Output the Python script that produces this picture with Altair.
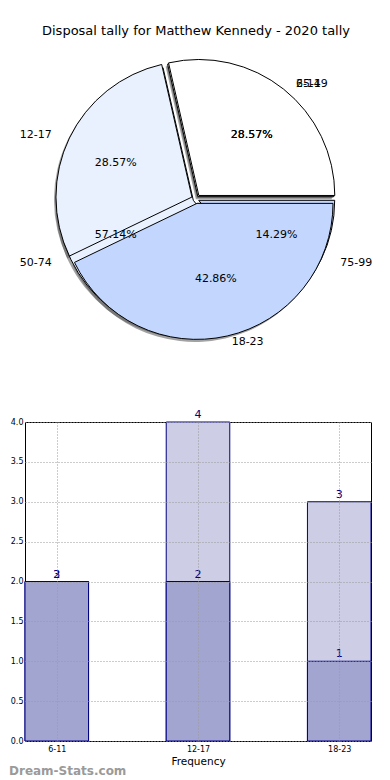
import math
import altair as alt
import pandas as pd

# ---------------- data ----------------
chart_title = "Disposal tally for Matthew Kennedy - 2020 tally"

pie1_labels = ["6-11", "12-17", "18-23"]
pie1_values = [2, 2, 3]
pie2_labels = ["25-49", "50-74", "75-99"]
pie2_values = [2, 4, 1]
pie_colors = ["#ffffff", "#e9f0fe", "#c2d6fe"]

bar_categories = ["6-11", "12-17", "18-23"]
bar_light_values = [2, 4, 3]
bar_light_labels = ["3", "4", "3"]
bar_dark_values = [2, 2, 1]
bar_dark_labels = ["2", "2", "1"]

axis_title = "Frequency"
watermark = "Dream-Stats.com"

# ---------------- layout constants ----------------
OX, OY = 24, 8                 # page position of the panels' origin
CX, CY = 195 - OX, 198 - OY    # pie centre in panel pixels
R = 136                        # wedge radius
RX_T, RY_T = 142, 130          # radii used for label placement
EXPLODE1, EXPLODE2 = 4.5, 3.0
LABEL_EXPLODE = 4.0
SHADOW_DX, SHADOW_DY = -2.0, 2.5
TOP_W, TOP_H = 346, 393
BAR_W, BAR_H = 346, 319
BAR_HALF = 0.225
FONT = "DejaVu Sans"
NAVY = "#000080"


def pie_table(labels, values, explode):
    total = sum(values)
    rows, cum = [], 0
    for i, (lab, v) in enumerate(zip(labels, values)):
        t0 = cum
        cum += v
        mid = math.radians((t0 + cum) / 2 / total * 360)
        c, s = math.cos(mid), math.sin(mid)
        ex, ey = CX + explode * c, CY - explode * s
        tx, ty = CX + LABEL_EXPLODE * c, CY - LABEL_EXPLODE * s
        rows.append(dict(
            k=i, label=lab, value=v, t0=t0, t1=cum, color=pie_colors[i],
            cx=ex, cy=ey, sx=ex + SHADOW_DX, sy=ey + SHADOW_DY,
            lx=tx + 1.1 * RX_T * c, ly=ty - 1.1 * RY_T * s,
            px=tx + 0.6 * RX_T * c, py=ty - 0.6 * RY_T * s,
            pct=f"{100 * v / total:.2f}%",
            side="left" if c >= 0 else "right",
        ))
    return pd.DataFrame(rows), total


pie1_df, total1 = pie_table(pie1_labels, pie1_values, EXPLODE1)
pie2_df, total2 = pie_table(pie2_labels, pie2_values, EXPLODE2)


def theta_scale(total):
    return alt.Scale(domain=[0, total], range=[math.pi / 2, math.pi / 2 - 2 * math.pi])


def wedges(df, total, shadow=False):
    if shadow:
        mark = alt.Chart(df).mark_arc(outerRadius=R, fill="#555555", opacity=0.55)
        xf, yf = "sx:Q", "sy:Q"
    else:
        mark = alt.Chart(df).mark_arc(outerRadius=R, stroke="black", strokeWidth=1)
        xf, yf = "cx:Q", "cy:Q"
    enc = dict(
        theta=alt.Theta("t0:Q", scale=theta_scale(total)),
        theta2="t1:Q",
        x=alt.X(xf, scale=None, axis=None, stack=False),
        y=alt.Y(yf, scale=None, axis=None, stack=False),
    )
    if not shadow:
        enc["fill"] = alt.Fill("color:N", scale=None, legend=None)
    return mark.encode(**enc)


def texts(df):
    layers = []
    for side in ["left", "right"]:
        layers.append(
            alt.Chart(df).transform_filter(alt.datum.side == side)
            .mark_text(align=side, baseline="middle", fontSize=11, font=FONT, color="black")
            .encode(x=alt.X("lx:Q", scale=None, axis=None),
                    y=alt.Y("ly:Q", scale=None, axis=None),
                    text="label:N")
        )
    layers.append(
        alt.Chart(df).mark_text(align="center", baseline="middle", fontSize=11, font=FONT, color="black")
        .encode(x=alt.X("px:Q", scale=None, axis=None),
                y=alt.Y("py:Q", scale=None, axis=None),
                text="pct:N")
    )
    return layers


title_df = pd.DataFrame({"t": [chart_title]})
title_layer = alt.Chart(title_df).mark_text(
    fontSize=13, font=FONT, color="black", align="center", baseline="middle"
).encode(x=alt.value(195 - OX), y=alt.value(30 - OY), text="t:N")

top = alt.layer(
    wedges(pie2_df, total2, shadow=True),
    wedges(pie1_df, total1, shadow=True),
    wedges(pie2_df, total2),
    wedges(pie1_df, total1),
    *texts(pie2_df),
    *texts(pie1_df),
    title_layer,
).resolve_scale(theta="independent").properties(
    width=TOP_W, height=TOP_H, view=alt.ViewBackground(stroke="transparent")
)

# ---------------- bar chart ----------------
bar_df = pd.DataFrame({
    "cat": bar_categories,
    "idx": list(range(len(bar_categories))),
    "light": bar_light_values,
    "light_label": bar_light_labels,
    "dark": bar_dark_values,
    "dark_label": bar_dark_labels,
})

label_expr = "[" + ",".join(f"'{c}'" for c in bar_categories) + "][datum.value]"

x_scale = alt.Scale(domain=[-BAR_HALF, len(bar_categories) - 1 + BAR_HALF], nice=False, zero=False)
x_axis = alt.Axis(values=list(range(len(bar_categories))), labelExpr=label_expr, title=axis_title,
                  grid=True, gridDash=[1, 2], gridColor="#999999", ticks=False, domain=False,
                  labelFontSize=8, labelPadding=4, labelColor="black", titleFontSize=10.5,
                  titleFontWeight="normal", titleColor="black", titlePadding=3, titleFont=FONT,
                  labelFont=FONT, labelOverlap=False, zindex=1)
y_axis = alt.Axis(values=[i * 0.5 for i in range(9)], format=".1f", title=None, grid=True,
                  gridDash=[1, 2], gridColor="#999999", ticks=False, domain=False, labelFontSize=8,
                  labelPadding=2, labelColor="black", labelFont=FONT, labelOverlap=False,
                  labelFlush=False, zindex=1)
y_scale = alt.Scale(domain=[0, 4], nice=False, zero=True)

base = alt.Chart(bar_df).transform_calculate(
    x0=f"datum.idx - {BAR_HALF}", x1=f"datum.idx + {BAR_HALF}"
)

light_bars = base.mark_bar(fill="#cdcde6", stroke=NAVY, strokeWidth=1).encode(
    x=alt.X("x0:Q", scale=x_scale, axis=x_axis), x2="x1:Q",
    y=alt.Y("light:Q", scale=y_scale, axis=y_axis), y2=alt.datum(0)
)
dark_bars = base.mark_bar(fill="#a3a5d1", stroke=NAVY, strokeWidth=1).encode(
    x=alt.X("x0:Q", scale=x_scale, axis=x_axis), x2="x1:Q",
    y=alt.Y("dark:Q", scale=y_scale, axis=y_axis), y2=alt.datum(0)
)
light_text = base.mark_text(baseline="bottom", dy=-2, fontSize=11, font=FONT, color=NAVY).encode(
    x=alt.X("idx:Q", scale=x_scale, axis=x_axis),
    y=alt.Y("light:Q", scale=y_scale, axis=y_axis), text="light_label:N"
)
dark_text = base.mark_text(baseline="bottom", dy=-2, fontSize=11, font=FONT, color=NAVY).encode(
    x=alt.X("idx:Q", scale=x_scale, axis=x_axis),
    y=alt.Y("dark:Q", scale=y_scale, axis=y_axis), text="dark_label:N"
)
wm_df = pd.DataFrame({"t": [watermark]})
wm = alt.Chart(wm_df).mark_text(
    align="left", baseline="middle", fontSize=12, fontWeight="bold", font=FONT, color="#9a9a9a"
).encode(x=alt.value(8 - OX), y=alt.value(770 - 421), text="t:N")

bottom = alt.layer(light_bars, dark_bars, light_text, dark_text, wm).properties(
    width=BAR_W, height=BAR_H, view=alt.ViewBackground(stroke="black", strokeWidth=1)
)

chart = alt.vconcat(top, bottom, spacing=20, bounds="flush").properties(
    padding=0
).configure(font=FONT)

chart.save("out.html", embed_options={"renderer": "svg", "actions": False})
